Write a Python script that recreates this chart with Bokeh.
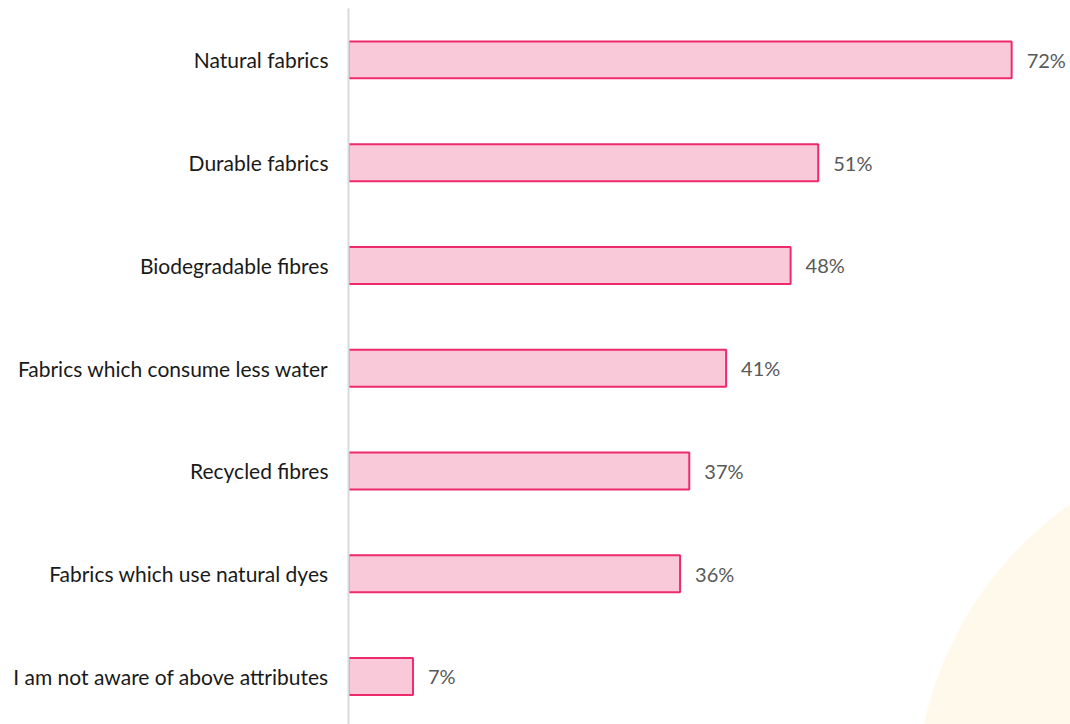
from bokeh.plotting import figure
from bokeh.models import Range1d, FixedTicker, ColumnDataSource
from bokeh.core.properties import value
from bokeh.embed import file_html
from bokeh.resources import INLINE

categories = [
    "Natural fabrics",
    "Durable fabrics",
    "Biodegradable fibres",
    "Fabrics which consume less water",
    "Recycled fibres",
    "Fabrics which use natural dyes",
    "I am not aware of above attributes",
]
values = [72, 51, 48, 41, 37, 36, 7]
value_labels = [f"{v}%" for v in values]

FONT = "Lato"
positions = list(range(len(categories)))

src = ColumnDataSource(dict(y=positions, v=values, lab=value_labels))

p = figure(width=1070, height=724, output_backend="svg", toolbar_location=None,
           x_range=Range1d(0, 78.39), y_range=Range1d(6.468, -0.5),
           min_border_left=348, min_border_right=0, min_border_top=8, min_border_bottom=0)

# decorative pale background circle (bottom right)
p.scatter(x=[101], y=[7.215], size=726, marker="circle", fill_color="#FFF9EC",
          line_color=None, level="underlay")

p.hbar(y="y", right="v", left=0, height=0.36, source=src,
       fill_color="#F9C9D9", line_color="#EE2A6B", line_width=2)

p.text(x="v", y="y", text="lab", source=src, x_offset=15,
       text_align="left", text_baseline="middle", text_color="#595959",
       text_font=value(FONT), text_font_size="20px")

p.xaxis.visible = False
p.xgrid.visible = False
p.ygrid.visible = False
p.outline_line_color = None

ya = p.yaxis[0]
ya.ticker = FixedTicker(ticks=positions)
ya.major_label_overrides = {i: c for i, c in zip(positions, categories)}
ya.axis_line_color = "#D9D9D9"
ya.axis_line_width = 2
ya.major_tick_line_color = None
ya.minor_tick_line_color = None
ya.major_tick_out = 0
ya.major_tick_in = 0
ya.major_label_standoff = 20
ya.major_label_text_font = FONT
ya.major_label_text_font_size = "21px"
ya.major_label_text_color = "#1A1A1A"

open("out.html", "w").write(file_html(p, INLINE))
